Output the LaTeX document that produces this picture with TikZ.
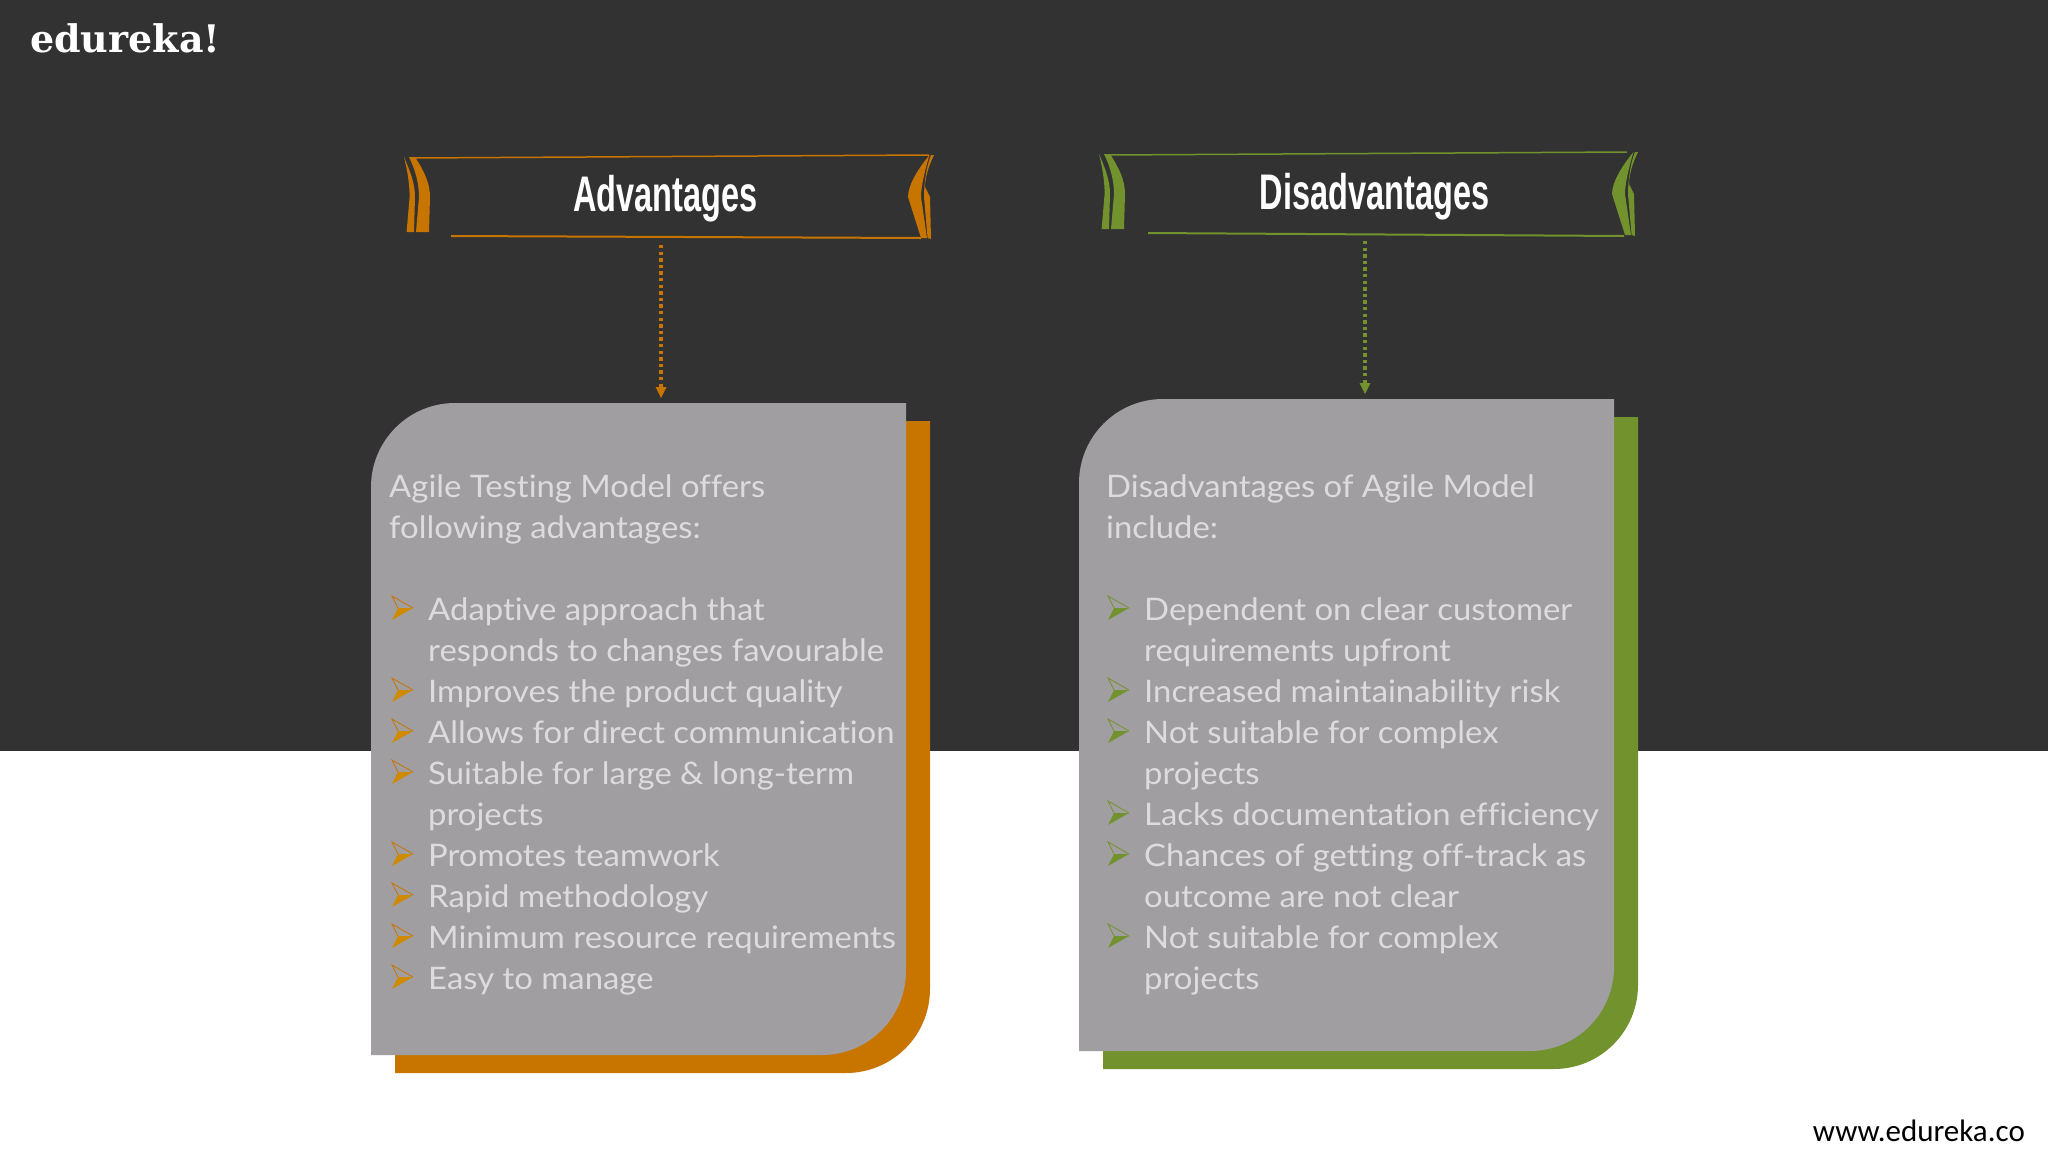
\documentclass[tikz,border=0pt]{standalone}
\usepackage{fontspec}
\setmainfont[FakeStretch=1.06,Ligatures=NoCommon]{Lato}
\newfontfamily\logofont{DejaVu Serif}
\newfontfamily\webfont{Carlito}
\newfontfamily\headfont[FakeStretch=0.65]{Liberation Sans}
\usetikzlibrary{arrows.meta}

\definecolor{bandgray}{HTML}{323232}
\definecolor{cardgray}{HTML}{A09EA0}
\definecolor{cardtext}{HTML}{DCDBDD}
\definecolor{advorange}{HTML}{C87500}
\definecolor{disgreen}{HTML}{72922E}

\tikzset{
  headtext/.style={text=white, inner sep=0pt, anchor=base, font=\headfont\bfseries\fontsize{50}{50}\selectfont},
  linetext/.style={text=cardtext, inner sep=0pt, anchor=base west, font=\fontsize{31}{41}\selectfont},
  dotarrow/.style={line width=3.6pt, dash pattern=on 3.4pt off 3.2pt, -{Triangle[length=11pt,width=11pt,line width=0pt,sep=0pt]}}
}

\begin{document}
\begin{tikzpicture}[x=1pt, y=-1pt]

  \newcommand\CardPath{(0,652) [rounded corners=84pt] -- (0,0) [sharp corners] -- (535,0) [rounded corners=84pt] -- (535,652) [sharp corners] -- cycle};
  \newcommand\LeftRibbon{
    \fill (0,0) .. controls (6,14) and (11,26) .. (11,40) -- (10,75) -- (2.6,75) -- (5.6,40) .. controls (5.6,26) and (3,12) .. cycle; % outer strip
    \fill (5,0) -- (11,0) .. controls (20,14) and (26,26) .. (26,40) -- (25,75) -- (12,75) -- (15,40) .. controls (15,26) and (11,12) .. cycle; % inner strip
  };
  \newcommand\RightRibbon{
    \fill (21.4,0) .. controls (10,14) and (0,30) .. (0,42) -- (13,83) -- (19,83) -- (13,42) .. controls (13,30) and (18,12) .. cycle; % inner strip
    \fill (23,0) -- (26,0) .. controls (20,12) and (17,24) .. (17,32) -- (22,42) -- (23,84) -- (19.6,83) -- (16,42) .. controls (16,30) and (18,12) .. cycle; % outer strip
  };
  \newcommand\Bullet{
    \fill (0,24) -- (21,12) -- (6,12) -- cycle; % lower half
    \draw[line width=0.8pt] (6,12) -- (0,0) -- (21,12); % upper half
  };

  % page
  \fill[white] (0,0) rectangle (2048,1152);
  \fill[bandgray] (0,0) rectangle (2048,751);
  \node[text=white, inner sep=0pt, anchor=base west, font=\logofont\bfseries\fontsize{38}{38}\selectfont] (logo) at (30,52) {edureka!};
  \node[text=black, inner sep=0pt, anchor=base east, font=\webfont\fontsize{31}{31}\selectfont] (web) at (2025,1141) {www.edureka.co};

  % cards
  \begin{scope}[shift={(395,421)}] \fill[advorange] \CardPath; \end{scope}
  \begin{scope}[shift={(371,403)}] \fill[cardgray] \CardPath; \end{scope}
  \begin{scope}[shift={(1103,417)}] \fill[disgreen] \CardPath; \end{scope}
  \begin{scope}[shift={(1079,399)}] \fill[cardgray] \CardPath; \end{scope}

  % advantages banner
  \begin{scope}[shift={(404,157)}, advorange] \LeftRibbon \end{scope}
  \begin{scope}[shift={(908,155)}, advorange] \RightRibbon \end{scope}
  \draw[advorange, line width=1.5pt] (413,158) -- (929,155);
  \draw[advorange, line width=2pt] (451,236) -- (921,238);
  \node[headtext] (advhead) at (665.5,211) {Advantages};

  % disadvantages banner
  \begin{scope}[shift={(1099,154)}, disgreen] \LeftRibbon \end{scope}
  \begin{scope}[shift={(1612,152)}, disgreen] \RightRibbon \end{scope}
  \draw[disgreen, line width=1.5pt] (1108,155) -- (1627,152);
  \draw[disgreen, line width=2pt] (1148,233) -- (1624,236);
  \node[headtext] (dishead) at (1374.5,209) {Disadvantages};

  % arrows
  \coordinate (advfoot) at (661,245);
  \coordinate (advtip) at (661,398);
  \coordinate (disfoot) at (1365,241);
  \coordinate (distip) at (1365,394);
  \draw[dotarrow, advorange] (advfoot) -- (advtip);
  \draw[dotarrow, disgreen] (disfoot) -- (distip);

  % left text
  \node[linetext] (advintroA) at (389,497.7) {Agile Testing Model offers};
  \node[linetext] (advintroB) at (389,538.7) {following advantages:};
  \foreach \n/\ypos/\txt in {a/620.7/Adaptive approach that, b/661.7/responds to changes favourable,
    c/702.7/Improves the product quality, d/743.7/Allows for direct communication,
    e/784.7/Suitable for large \& long-term, f/825.7/projects, g/866.7/Promotes teamwork,
    h/907.7/Rapid methodology, i/948.7/Minimum resource requirements, j/989.7/Easy to manage}
    \node[linetext] (advline\n) at (428,\ypos) {\txt};

  % right text
  \node[linetext] (disintroA) at (1106,497.7) {Disadvantages of Agile Model};
  \node[linetext] (disintroB) at (1106,538.7) {include:};
  \foreach \n/\ypos/\txt in {a/620.7/Dependent on clear customer, b/661.7/requirements upfront,
    c/702.7/Increased maintainability risk, d/743.7/Not suitable for complex, e/784.7/projects,
    f/825.7/Lacks documentation efficiency, g/866.7/Chances of getting off-track as,
    h/907.7/outcome are not clear, i/948.7/Not suitable for complex, j/989.7/projects}
    \node[linetext] (disline\n) at (1144,\ypos) {\txt};

  % bullets
  \foreach \ypos in {596,678,719,760,842,883,924,965}
    \begin{scope}[shift={(392,\ypos)}, fill=advorange!85!yellow, draw=advorange] \Bullet \end{scope};
  \foreach \ypos in {596,678,719,801,842,924}
    \begin{scope}[shift={(1108,\ypos)}, fill=disgreen, draw=disgreen] \Bullet \end{scope};

\end{tikzpicture}
\end{document}
